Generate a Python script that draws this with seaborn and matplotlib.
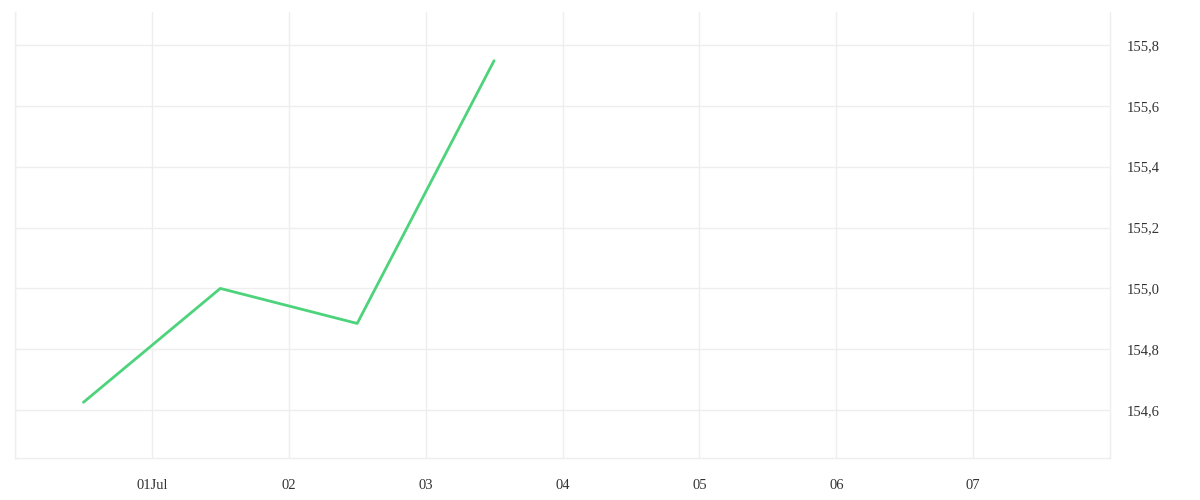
import matplotlib
matplotlib.use("Agg")
import matplotlib.pyplot as plt
import matplotlib.dates as mdates
from matplotlib.ticker import FuncFormatter, FixedLocator
import seaborn as sns
import pandas as pd

dates = ["2024-06-30 12:00", "2024-07-01 12:00", "2024-07-02 12:00", "2024-07-03 12:00"]
values = [154.626, 155.0, 154.885, 155.748]
tick_dates = ["2024-06-30", "2024-07-01", "2024-07-02", "2024-07-03", "2024-07-04",
              "2024-07-05", "2024-07-06", "2024-07-07"]
tick_labels = ["", "01Jul", "02", "03", "04", "05", "06", "07"]
y_ticks = [154.6, 154.8, 155.0, 155.2, 155.4, 155.6, 155.8]

df = pd.DataFrame({"date": pd.to_datetime(dates), "value": values})

sns.set_theme(style="white")
plt.rcParams["font.family"] = ["Liberation Serif", "DejaVu Serif"]

fig = plt.figure(figsize=(12, 5), dpi=100)
ax = fig.add_axes([15/1200, 42/500, (1110-15)/1200, (458-12)/500])

sns.lineplot(data=df, x="date", y="value", ax=ax, color="#4cd37b", linewidth=2)

grid_c = "#eeeeee"
ax.set_xlim(pd.Timestamp("2024-06-30"), pd.Timestamp("2024-07-08"))
ax.set_ylim(154.443, 155.908)

xt = [mdates.date2num(pd.Timestamp(d)) for d in tick_dates]
ax.xaxis.set_major_locator(FixedLocator(xt))
ax.set_xticklabels(tick_labels)
ax.set_yticks(y_ticks)
ax.yaxis.set_major_formatter(FuncFormatter(lambda v, p: f"{v:.1f}".replace(".", ",")))
ax.yaxis.tick_right()

ax.grid(True, color=grid_c, linewidth=1)
for s in ["left", "right", "bottom"]:
    ax.spines[s].set_color(grid_c)
    ax.spines[s].set_linewidth(1)
ax.spines["top"].set_visible(False)

ax.tick_params(axis="x", length=9, color=grid_c, width=1, pad=6, labelsize=10.5, labelcolor="#333333")
ax.tick_params(axis="y", length=0, pad=12, labelsize=10.5, labelcolor="#333333")
ax.set_xlabel("")
ax.set_ylabel("")

fig.savefig("out.png", dpi=100, facecolor="white")
